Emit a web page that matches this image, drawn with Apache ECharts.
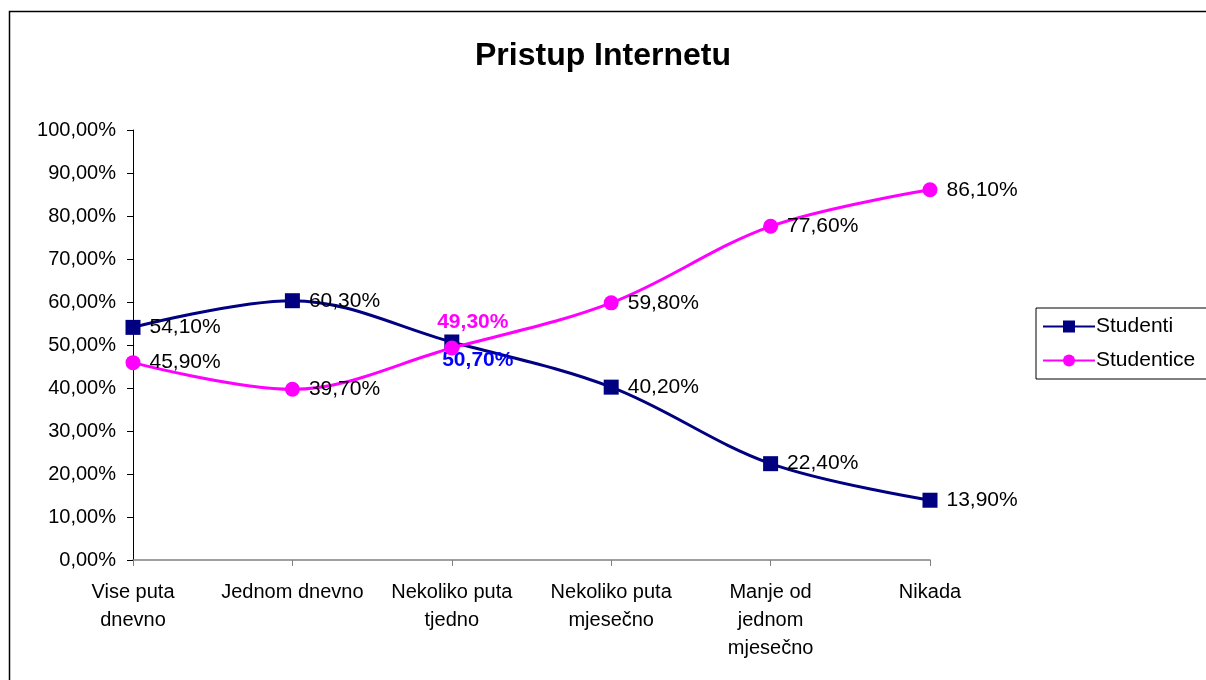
<!DOCTYPE html>
<html>
<head>
<meta charset="utf-8">
<script src="https://cdn.jsdelivr.net/npm/echarts@6/dist/echarts.min.js"></script>
<style>
  html, body { margin: 0; padding: 0; background: #fff; }
  #chart { width: 1206px; height: 680px; }
</style>
</head>
<body>
<div id="chart"></div>
<script>
// kategorije i vrijednosti (%)
const categories = ['Vise puta\ndnevno', 'Jednom dnevno', 'Nekoliko puta\ntjedno', 'Nekoliko puta\nmjesečno', 'Manje od\njednom\nmjesečno', 'Nikada']
const studenti = [54.1, 60.3, 50.7, 40.2, 22.4, 13.9]
const studentice = [45.9, 39.7, 49.3, 59.8, 77.6, 86.1]
const yTicks = [0, 10, 20, 30, 40, 50, 60, 70, 80, 90, 100]

const fmt = v => v.toFixed(2).replace('.', ',') + '%'
const font = 'Liberation Sans, Arial, sans-serif'

// srednja tocka ima posebnu oznaku
function buildData (arr, special) {
  return arr.map((v, i) => {
    if (i !== 2) return v
    return { value: v, label: special }
  })
}

const chart = echarts.init(document.getElementById('chart'))
const option = {
  animation: false,
  backgroundColor: '#fff',
  title: {
    text: 'Pristup Internetu',
    left: 'center',
    top: 35,
    textStyle: { fontFamily: font, fontSize: 32, fontWeight: 'bold', color: '#000' }
  },
  graphic: [{
    type: 'rect',
    shape: { x: 9.5, y: 11.5, width: 1210, height: 680 },
    style: { fill: 'none', stroke: '#000', lineWidth: 1.5 },
    silent: true
  }],
  legend: {
    orient: 'vertical',
    left: 1036,
    top: 308,
    padding: [8, 16, 8, 6],
    itemGap: 13,
    itemWidth: 52,
    itemHeight: 15,
    borderColor: '#000',
    borderWidth: 1,
    textStyle: { fontFamily: font, fontSize: 21, color: '#000', padding: [0, 0, 0, -4] },
    data: ['Studenti', 'Studentice']
  },
  grid: { left: 133, right: 276, top: 130, bottom: 120 },
  xAxis: {
    type: 'category',
    boundaryGap: false,
    data: categories,
    axisLine: { lineStyle: { color: '#808080', width: 1.5 } },
    axisTick: { show: true, length: 6, lineStyle: { color: '#808080' } },
    axisLabel: { fontFamily: font, fontSize: 20, color: '#000', margin: 18, lineHeight: 28, interval: 0 }
  },
  yAxis: {
    type: 'value',
    min: yTicks[0],
    max: yTicks[yTicks.length - 1],
    interval: 10,
    splitLine: { show: false },
    axisLine: { show: true, lineStyle: { color: '#000', width: 1 } },
    axisTick: { show: true, length: 6, lineStyle: { color: '#000' } },
    axisLabel: { fontFamily: font, fontSize: 20, color: '#000', margin: 17, formatter: v => fmt(v) }
  },
  series: [
    {
      name: 'Studenti',
      type: 'line',
      smooth: 0.35,
      symbol: 'rect',
      symbolSize: 15,
      z: 3,
      itemStyle: { color: '#000080' },
      lineStyle: { color: '#000080', width: 3 },
      label: {
        show: true, position: 'right', distance: 9,
        fontFamily: font, fontSize: 21, color: '#000',
        formatter: p => fmt(p.value)
      },
      data: buildData(studenti, {
        show: true, position: 'bottom', distance: 0, offset: [26, 0],
        color: '#0000FF', fontWeight: 'bold', fontSize: 21
      })
    },
    {
      name: 'Studentice',
      type: 'line',
      smooth: 0.35,
      symbol: 'circle',
      symbolSize: 15,
      z: 4,
      itemStyle: { color: '#FF00FF' },
      lineStyle: { color: '#FF00FF', width: 3 },
      label: {
        show: true, position: 'right', distance: 9,
        fontFamily: font, fontSize: 21, color: '#000',
        formatter: p => fmt(p.value)
      },
      data: buildData(studentice, {
        show: true, position: 'top', distance: 8, offset: [21, 0],
        color: '#FF00FF', fontWeight: 'bold', fontSize: 21
      })
    }
  ]
}
chart.setOption(option)
</script>
</body>
</html>
